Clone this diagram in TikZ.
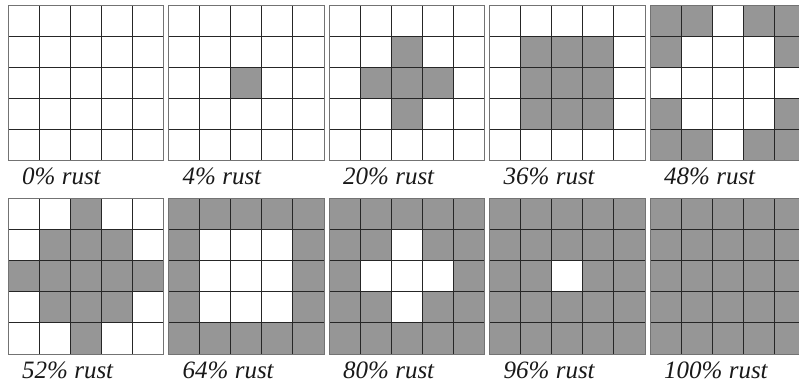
\documentclass[tikz,border=0pt]{standalone}
\usepackage{fontspec}
\setmainfont{Liberation Serif}
\definecolor{rustgray}{RGB}{150,150,150}
\tikzset{
  rustfill/.style={fill=rustgray},
  gridline/.style={draw=black!85, line width=1.1pt},
  gridframe/.style={draw=black!55, line width=1pt},
  rustlabel/.style={anchor=base west, inner sep=0pt, font=\fontsize{25}{25}\selectfont\itshape, text=black!90}
}
\newcommand\rustgrid[5]{%
  \begin{scope}[shift={(#2,#3)}]
    \foreach \v [count=\i from 0] in {#4} {
      \pgfmathtruncatemacro\rr{int(\i/5)}
      \pgfmathtruncatemacro\cc{\i-5*\rr}
      \ifnum\v=1
        \path[rustfill] (\cc*31.1,\rr*31.1) rectangle ++(31.1,31.1);
      \fi
    }
    \foreach \k in {1,...,4} {
      \path[gridline] (\k*31.1,0) -- (\k*31.1,155.5);
      \path[gridline] (0,\k*31.1) -- (155.5,\k*31.1);
    }
    \path[gridframe] (0,0) rectangle (155.5,155.5);
    \node[rustlabel] (#1) at (14,179.5) {#5};
  \end{scope}
}
\begin{document}
\begin{tikzpicture}[x=1pt,y=-1pt]
  \useasboundingbox (0,0) rectangle (799,387);
  \rustgrid{g0}{8}{5.5}{0,0,0,0,0, 0,0,0,0,0, 0,0,0,0,0, 0,0,0,0,0, 0,0,0,0,0}{0\% rust}
  \rustgrid{g4}{168.5}{5.5}{0,0,0,0,0, 0,0,0,0,0, 0,0,1,0,0, 0,0,0,0,0, 0,0,0,0,0}{4\% rust}
  \rustgrid{g20}{329}{5.5}{0,0,0,0,0, 0,0,1,0,0, 0,1,1,1,0, 0,0,1,0,0, 0,0,0,0,0}{20\% rust}
  \rustgrid{g36}{489.5}{5.5}{0,0,0,0,0, 0,1,1,1,0, 0,1,1,1,0, 0,1,1,1,0, 0,0,0,0,0}{36\% rust}
  \rustgrid{g48}{650}{5.5}{1,1,0,1,1, 1,0,0,0,1, 0,0,0,0,0, 1,0,0,0,1, 1,1,0,1,1}{48\% rust}
  \rustgrid{g52}{8}{198.5}{0,0,1,0,0, 0,1,1,1,0, 1,1,1,1,1, 0,1,1,1,0, 0,0,1,0,0}{52\% rust}
  \rustgrid{g64}{168.5}{198.5}{1,1,1,1,1, 1,0,0,0,1, 1,0,0,0,1, 1,0,0,0,1, 1,1,1,1,1}{64\% rust}
  \rustgrid{g80}{329}{198.5}{1,1,1,1,1, 1,1,0,1,1, 1,0,0,0,1, 1,1,0,1,1, 1,1,1,1,1}{80\% rust}
  \rustgrid{g96}{489.5}{198.5}{1,1,1,1,1, 1,1,1,1,1, 1,1,0,1,1, 1,1,1,1,1, 1,1,1,1,1}{96\% rust}
  \rustgrid{g100}{650}{198.5}{1,1,1,1,1, 1,1,1,1,1, 1,1,1,1,1, 1,1,1,1,1, 1,1,1,1,1}{100\% rust}
\end{tikzpicture}
\end{document}
